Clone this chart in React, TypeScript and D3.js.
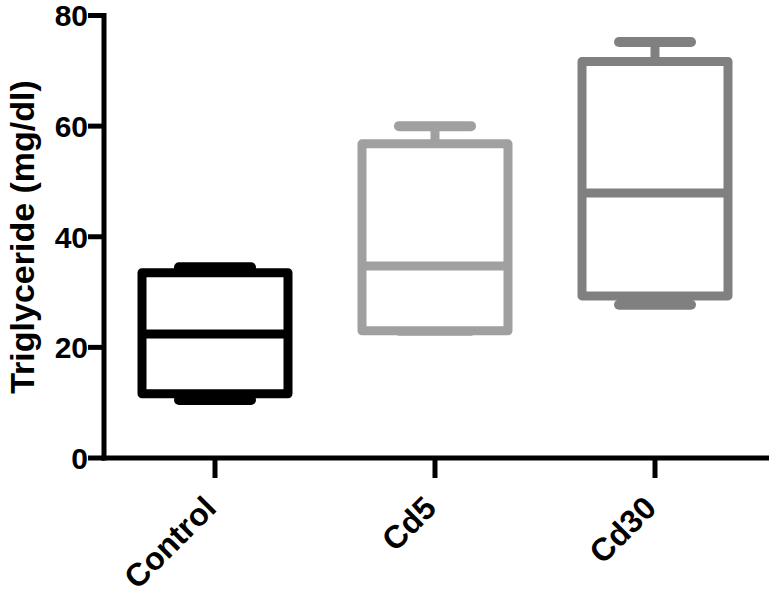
import React from 'react';
import * as d3 from 'd3';

const width = 769;
const height = 604;

// box plot values (mg/dl)
const groups = ['Control', 'Cd5', 'Cd30'];
const mins = [10.5, 23.0, 27.7];
const q1s = [11.6, 23.0, 29.3];
const medians = [22.4, 34.7, 47.9];
const q3s = [33.5, 56.8, 71.7];
const maxs = [34.5, 60.0, 75.2];
const colors = ['#000000', '#a0a0a0', '#808080'];
const yTicks = [0, 20, 40, 60, 80];

const FONT = '"Liberation Sans", Arial, Helvetica, sans-serif';

const App = () => {
  const axisX = 104;
  const y = d3.scaleLinear().domain([0, 80]).range([458, 15.5]);
  const x = d3.scaleBand().domain(groups).range([105, 765]).padding(0);

  const boxHalf = 73;
  const capHalf = 36;
  const SW = 9;

  const boxes = groups.map((g, i) => {
    const cx = x(g)! + x.bandwidth() / 2;
    const col = colors[i];
    return (
      <g key={g}>
        {/* whiskers */}
        <line x1={cx} x2={cx} y1={y(q3s[i])} y2={y(maxs[i])} stroke={col} strokeWidth={SW} />
        <line x1={cx} x2={cx} y1={y(q1s[i])} y2={y(mins[i])} stroke={col} strokeWidth={SW} />
        <line x1={cx - capHalf} x2={cx + capHalf} y1={y(maxs[i])} y2={y(maxs[i])}
          stroke={col} strokeWidth={10} strokeLinecap="round" />
        <line x1={cx - capHalf} x2={cx + capHalf} y1={y(mins[i])} y2={y(mins[i])}
          stroke={col} strokeWidth={10} strokeLinecap="round" />
        {/* box */}
        <rect x={cx - boxHalf} y={y(q3s[i])} width={boxHalf * 2} height={y(q1s[i]) - y(q3s[i])}
          fill="#ffffff" stroke={col} strokeWidth={SW} strokeLinejoin="round" />
        <line x1={cx - boxHalf} x2={cx + boxHalf} y1={y(medians[i])} y2={y(medians[i])}
          stroke={col} strokeWidth={SW} />
      </g>
    );
  });

  return (
    <svg width={width} height={height} viewBox={`0 0 ${width} ${height}`}
      style={{ position: 'absolute', left: 0, top: 0, background: '#fff' }}>
      {boxes}

      {/* y axis */}
      <line x1={axisX} x2={axisX} y1={y(80) - 2.5} y2={y(0) + 2.5} stroke="#000" strokeWidth={5} />
      {yTicks.map(t => (
        <g key={t}>
          <line x1={axisX - 16} x2={axisX} y1={y(t)} y2={y(t)} stroke="#000" strokeWidth={5} />
          <text x={88} y={y(t)} dy="0.36em" textAnchor="end" fontFamily={FONT}
            fontWeight="bold" fontSize={30} fill="#000">{t}</text>
        </g>
      ))}
      <text transform={`translate(34,237) rotate(-90)`} textAnchor="middle" fontFamily={FONT}
        fontWeight="bold" fontSize={34} fill="#000">Triglyceride (mg/dl)</text>

      {/* x axis */}
      <line x1={axisX - 2.5} x2={width} y1={y(0)} y2={y(0)} stroke="#000" strokeWidth={5} />
      {groups.map(g => {
        const cx = x(g)! + x.bandwidth() / 2;
        return (
          <g key={g}>
            <line x1={cx} x2={cx} y1={y(0)} y2={y(0) + 20} stroke="#000" strokeWidth={5} />
            <text transform={`translate(${cx + 3},510) rotate(-45)`} textAnchor="end"
              fontFamily={FONT} fontWeight="bold" fontSize={32} fill="#000">{g}</text>
          </g>
        );
      })}
    </svg>
  );
};

export default App;
